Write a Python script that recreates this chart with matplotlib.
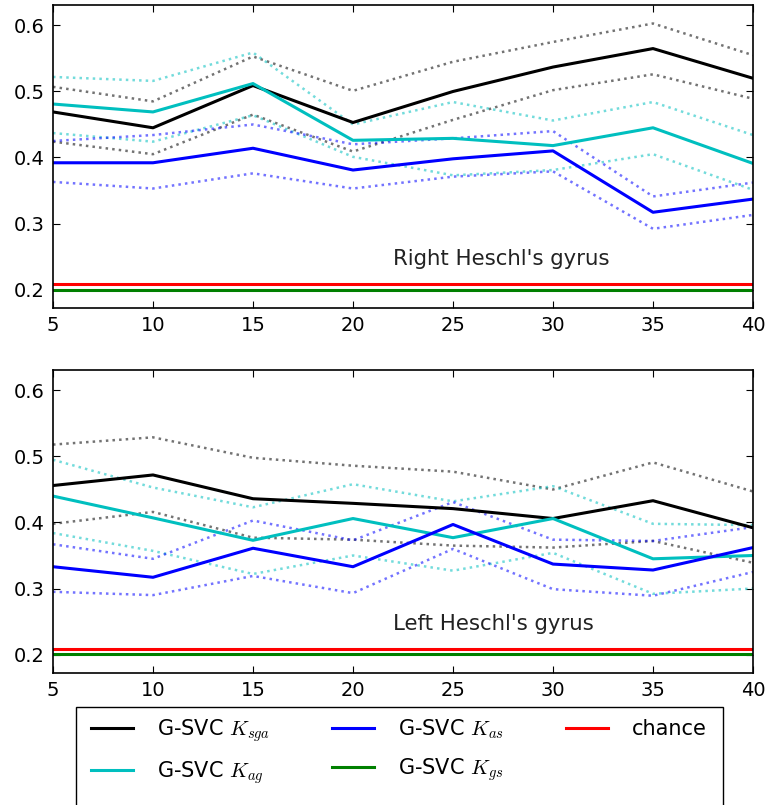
import matplotlib.pyplot as plt
from matplotlib.patches import Rectangle

plt.rcParams['font.family'] = ['DejaVu Sans']
plt.rcParams['mathtext.fontset'] = 'cm'

n_features = [5, 10, 15, 20, 25, 30, 35, 40]

# Right Heschl's gyrus: mean and +/- band for each kernel
right_sga = [0.469, 0.445, 0.509, 0.453, 0.500, 0.537, 0.565, 0.520]
right_sga_hi = [0.507, 0.485, 0.553, 0.501, 0.545, 0.575, 0.603, 0.555]
right_sga_lo = [0.424, 0.405, 0.465, 0.409, 0.457, 0.502, 0.526, 0.489]
right_ag = [0.481, 0.469, 0.512, 0.426, 0.429, 0.418, 0.445, 0.391]
right_ag_hi = [0.522, 0.516, 0.559, 0.450, 0.484, 0.456, 0.484, 0.434]
right_ag_lo = [0.437, 0.424, 0.464, 0.401, 0.373, 0.381, 0.405, 0.351]
right_as = [0.392, 0.392, 0.414, 0.381, 0.398, 0.410, 0.317, 0.337]
right_as_hi = [0.425, 0.434, 0.450, 0.420, 0.429, 0.440, 0.341, 0.362]
right_as_lo = [0.363, 0.353, 0.376, 0.353, 0.371, 0.379, 0.292, 0.313]
right_gs = [0.200] * 8

# Left Heschl's gyrus
left_sga = [0.456, 0.472, 0.436, 0.429, 0.421, 0.406, 0.433, 0.392]
left_sga_hi = [0.518, 0.529, 0.498, 0.486, 0.477, 0.450, 0.491, 0.447]
left_sga_lo = [0.398, 0.416, 0.377, 0.374, 0.365, 0.362, 0.372, 0.339]
left_ag = [0.440, 0.407, 0.373, 0.406, 0.377, 0.406, 0.345, 0.350]
left_ag_hi = [0.495, 0.453, 0.423, 0.458, 0.432, 0.455, 0.398, 0.396]
left_ag_lo = [0.384, 0.357, 0.322, 0.350, 0.327, 0.354, 0.292, 0.300]
left_as = [0.333, 0.317, 0.361, 0.333, 0.397, 0.337, 0.328, 0.362]
left_as_hi = [0.367, 0.345, 0.403, 0.373, 0.431, 0.374, 0.372, 0.393]
left_as_lo = [0.295, 0.290, 0.319, 0.293, 0.360, 0.299, 0.289, 0.325]
left_gs = [0.201] * 8

chance = [0.209] * 8

W, H = 768, 805
fig = plt.figure(figsize=(W / 100, H / 100), dpi=100, facecolor='white')
ax_top = fig.add_axes([53 / W, 1 - 308 / H, 700 / W, 303 / H])
ax_bot = fig.add_axes([53 / W, 1 - 673 / H, 700 / W, 303 / H])


def draw_panel(ax, sga, sga_hi, sga_lo, ag, ag_hi, ag_lo, as_, as_hi, as_lo, gs, title):
    for mean, hi, lo, col in [(sga, sga_hi, sga_lo, 'k'),
                              (ag, ag_hi, ag_lo, 'c'),
                              (as_, as_hi, as_lo, 'b')]:
        ax.plot(n_features, hi, ':', color=col, lw=1.8, alpha=0.55)
        ax.plot(n_features, lo, ':', color=col, lw=1.8, alpha=0.55)
    l1, = ax.plot(n_features, sga, color='k', lw=2.2, label=r'G-SVC $K_{sga}$')
    l2, = ax.plot(n_features, ag, color='c', lw=2.2, label=r'G-SVC $K_{ag}$')
    l3, = ax.plot(n_features, as_, color='b', lw=2.2, label=r'G-SVC $K_{as}$')
    l4, = ax.plot(n_features, gs, color='g', lw=2.2, label=r'G-SVC $K_{gs}$')
    l5, = ax.plot(n_features, chance, color='r', lw=2.2, label='chance')
    ax.text(22, 0.246, title, fontsize=15.3, va='center', ha='left', color='#222222')
    ax.set_xlim(5, 40)
    ax.set_ylim(0.172, 0.631)
    ax.set_xticks(n_features)
    ax.set_yticks([0.2, 0.3, 0.4, 0.5, 0.6])
    ax.tick_params(direction='in', top=True, right=True, labelsize=14, length=5, pad=6)
    for sp in ax.spines.values():
        sp.set_linewidth(1.2)
    return [l1, l2, l3, l4, l5]


draw_panel(ax_top, right_sga, right_sga_hi, right_sga_lo, right_ag, right_ag_hi, right_ag_lo,
           right_as, right_as_hi, right_as_lo, right_gs, "Right Heschl's gyrus")
handles = draw_panel(ax_bot, left_sga, left_sga_hi, left_sga_lo, left_ag, left_ag_hi, left_ag_lo,
                     left_as, left_as_hi, left_as_lo, left_gs, "Left Heschl's gyrus")

# legend box runs off the bottom of the figure, as in the original
fig.patches.append(Rectangle((76 / W, -0.05), (723 - 76) / W, 0.05 + 1 - 707 / H,
                             transform=fig.transFigure, facecolor='white',
                             edgecolor='k', lw=1.0, zorder=0))
leg = fig.legend(handles, [h.get_label() for h in handles], loc='upper left',
                 bbox_to_anchor=(91 / W, 1 - 717 / H), ncol=3, fontsize=15, frameon=False,
                 handlelength=2.0, handletextpad=1.15, columnspacing=3.0,
                 labelspacing=0.75, borderpad=0.0, borderaxespad=0.0)

fig.savefig('out.png', dpi=100, facecolor='white')
